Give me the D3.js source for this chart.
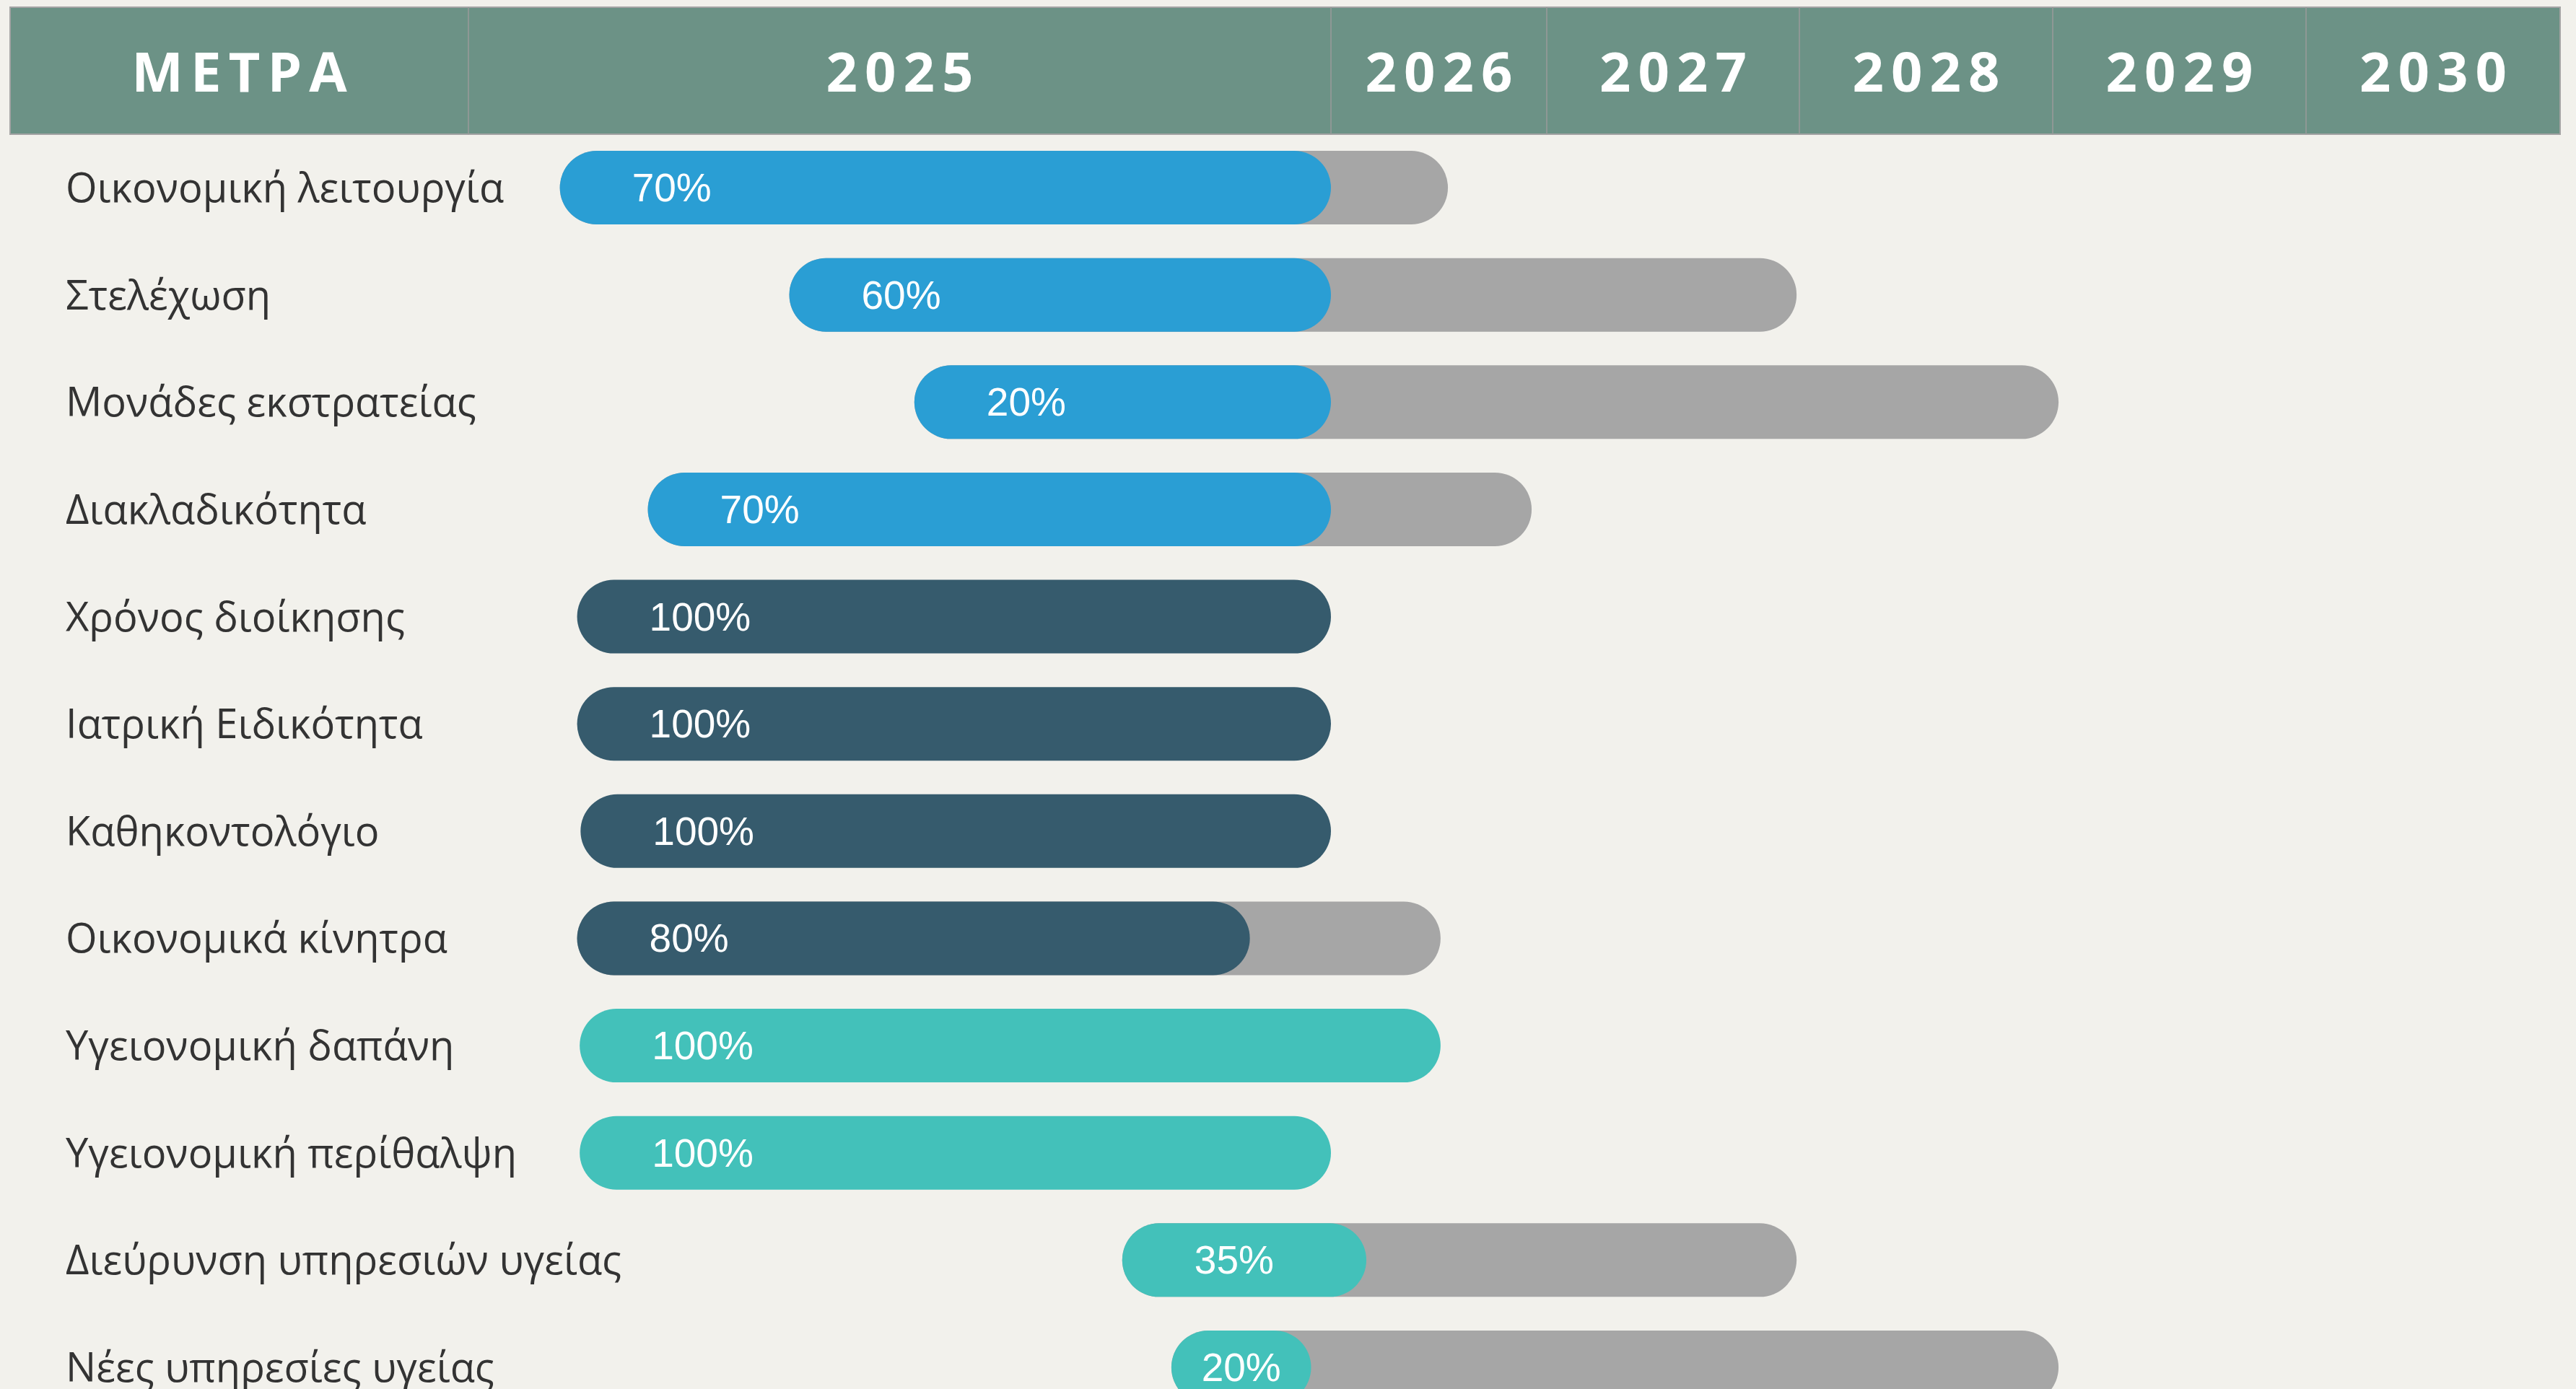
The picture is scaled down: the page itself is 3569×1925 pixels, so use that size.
<!DOCTYPE html>
<html><head><meta charset="utf-8">
<script src="https://cdn.jsdelivr.net/npm/d3@7"></script>
<style>html,body{margin:0;padding:0;background:#f2f1ec;overflow:hidden}</style>
</head><body>
<svg id="chart" width="3569" height="1925"></svg>
<script>
// ---- data ----
const categories = [
  "Οικονομική λειτουργία","Στελέχωση","Μονάδες εκστρατείας","Διακλαδικότητα",
  "Χρόνος διοίκησης","Ιατρική Ειδικότητα","Καθηκοντολόγιο","Οικονομικά κίνητρα",
  "Υγειονομική δαπάνη","Υγειονομική περίθαλψη","Διεύρυνση υπηρεσιών υγείας","Νέες υπηρεσίες υγείας"
];
const groups   = [1,1,1,1, 2,2,2,2, 3,3,3,3];
const percents = [70,60,20,70, 100,100,100,80, 100,100,35,20];
const startYears    = [2025.106,2025.372,2025.517,2025.208, 2025.126,2025.126,2025.130,2025.126, 2025.129,2025.129,2025.758,2025.815];
const progressYears = [2026.000,2026.000,2026.000,2026.000, 2026.000,2026.000,2026.000,2025.906, 2026.508,2026.000,2026.164,2025.977];
const endYears      = [2026.542,2027.989,2029.023,2026.930, 2026.000,2026.000,2026.000,2026.508, 2026.508,2026.000,2027.989,2029.023];
const headerTitle = "ΜΕΤΡΑ";
const yearLabels = ["2025","2026","2027","2028","2029","2030"];
const yearEdges  = [2025,2026,2027,2028,2029,2030,2031];

// ---- layout ----
const W = 3569, H = 1925;
const hdr = {x0: 14, x1: 3547, y0: 10, y1: 186};
const colEdgesPx = [649, 1844, 2143, 2493, 2844, 3195, 3547];
const barH = 102;
const labelPad = 100;

const svg = d3.select("#chart");
svg.append("rect").attr("width", W).attr("height", H).attr("fill", "#f2f1ec");

const x = d3.scaleLinear().domain(yearEdges).range(colEdgesPx);
const y = d3.scalePoint().domain(categories).range([260, 1895]);
const color = d3.scaleOrdinal().domain([1,2,3]).range(["#2a9ed4","#365b6d","#43c1ba"]);

// ---- header ----
const g = svg.append("g");
g.append("rect").attr("x", hdr.x0).attr("y", hdr.y0).attr("width", hdr.x1 - hdr.x0).attr("height", hdr.y1 - hdr.y0)
  .attr("fill", "#6c9286").attr("stroke", "#a4a4a4").attr("stroke-width", 2);
const dividers = yearEdges.slice(0, -1).map(d => x(d));
g.selectAll("line.div").data(dividers).join("line").attr("class","div")
  .attr("x1", d => d).attr("x2", d => d).attr("y1", hdr.y0).attr("y2", hdr.y1)
  .attr("stroke", "#9a9a9a").attr("stroke-width", 1.5);

const ls = 10;
const headerCells = [{t: headerTitle, a: hdr.x0, b: x(yearEdges[0])}].concat(
  yearLabels.map((t, i) => ({t, a: x(yearEdges[i]), b: x(yearEdges[i+1])})));
g.selectAll("text.hdr").data(headerCells).join("text").attr("class","hdr")
  .attr("x", d => (d.a + d.b) / 2 + ls / 2).attr("y", 127)
  .attr("text-anchor", "middle").attr("fill", "#ffffff")
  .attr("font-family", "'Open Sans', sans-serif").attr("font-weight", 700)
  .attr("font-size", 76).attr("letter-spacing", ls)
  .text(d => d.t);

// ---- rows ----
const rows = categories.map((c, i) => ({
  c, grp: groups[i], pct: percents[i], s: startYears[i], p: progressYears[i], e: endYears[i]
}));

// labels
svg.selectAll("text.lbl").data(rows).join("text").attr("class","lbl")
  .attr("x", 91).attr("y", d => y(d.c) + 20)
  .attr("fill", "#333333").attr("font-family", "'Open Sans', sans-serif").attr("font-size", 56)
  .text(d => d.c);

// grey full bars
svg.selectAll("rect.bg").data(rows.filter(d => d.e > d.p)).join("rect").attr("class","bg")
  .attr("x", d => x(d.s)).attr("y", d => y(d.c) - barH/2)
  .attr("width", d => x(d.e) - x(d.s)).attr("height", barH)
  .attr("rx", barH/2).attr("ry", barH/2).attr("fill", "#a6a6a6");

// progress bars
svg.selectAll("rect.fg").data(rows).join("rect").attr("class","fg")
  .attr("x", d => x(d.s)).attr("y", d => y(d.c) - barH/2)
  .attr("width", d => x(d.p) - x(d.s)).attr("height", barH)
  .attr("rx", barH/2).attr("ry", barH/2).attr("fill", d => color(d.grp));

// percent labels
svg.selectAll("text.pct").data(rows).join("text").attr("class","pct")
  .attr("y", d => y(d.c) + 19)
  .attr("fill", "#ffffff").attr("font-family", "'Liberation Sans', Arial, sans-serif").attr("font-size", 55)
  .text(d => d.pct + "%")
  .each(function(d) {
    const tw = this.getComputedTextLength();
    const len = x(d.p) - x(d.s);
    const off = Math.min(labelPad, (len - tw) / 2);
    d3.select(this).attr("x", x(d.s) + off);
  });
</script>
</body></html>
